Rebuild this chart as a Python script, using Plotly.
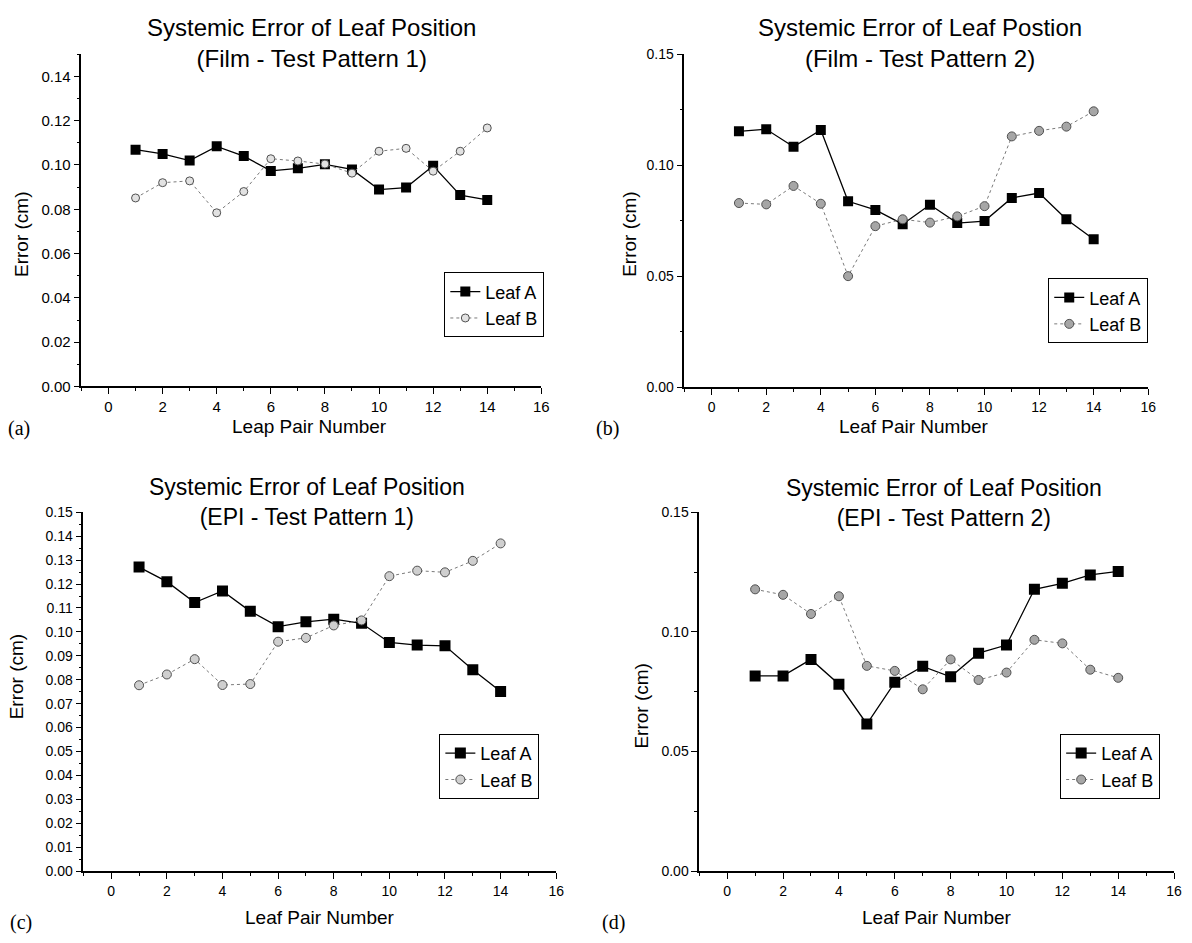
import plotly.graph_objects as go

W, H = 1192, 943
leaf_pairs = list(range(1, 15))

# Panel (a): Film - Test Pattern 1
a_leafA = [0.1069, 0.1050, 0.1020, 0.1084, 0.1040, 0.0973, 0.0985, 0.1003, 0.0980, 0.0889, 0.0898, 0.0996, 0.0864, 0.0842]
a_leafB = [0.0851, 0.0920, 0.0928, 0.0784, 0.0880, 0.1028, 0.1018, 0.1004, 0.0963, 0.1062, 0.1075, 0.0972, 0.1062, 0.1167]
# Panel (b): Film - Test Pattern 2
b_leafA = [0.1153, 0.1162, 0.1083, 0.1159, 0.0838, 0.0799, 0.0735, 0.0822, 0.0740, 0.0749, 0.0853, 0.0875, 0.0757, 0.0667]
b_leafB = [0.0830, 0.0824, 0.0907, 0.0827, 0.0501, 0.0726, 0.0757, 0.0742, 0.0770, 0.0816, 0.1130, 0.1155, 0.1174, 0.1243]
# Panel (c): EPI - Test Pattern 1
c_leafA = [0.1271, 0.1210, 0.1123, 0.1171, 0.1086, 0.1022, 0.1042, 0.1053, 0.1036, 0.0956, 0.0945, 0.0942, 0.0842, 0.0751]
c_leafB = [0.0777, 0.0822, 0.0886, 0.0778, 0.0782, 0.0959, 0.0975, 0.1027, 0.1048, 0.1233, 0.1256, 0.1249, 0.1297, 0.1370]
# Panel (d): EPI - Test Pattern 2
d_leafA = [0.0816, 0.0816, 0.0885, 0.0781, 0.0615, 0.0789, 0.0856, 0.0812, 0.0911, 0.0945, 0.1178, 0.1203, 0.1238, 0.1253]
d_leafB = [0.1178, 0.1155, 0.1075, 0.1149, 0.0858, 0.0837, 0.0760, 0.0885, 0.0799, 0.0830, 0.0967, 0.0952, 0.0842, 0.0808]

title_line1 = [
    "Systemic Error of Leaf Position",
    "Systemic Error of Leaf Postion",
    "Systemic Error of Leaf Position",
    "Systemic Error of Leaf Position",
]
title_line2 = [
    "(Film - Test Pattern 1)",
    "(Film - Test Pattern 2)",
    "(EPI - Test Pattern 1)",
    "(EPI - Test Pattern 2)",
]
xlabels = ["Leap Pair Number", "Leaf Pair Number", "Leaf Pair Number", "Leaf Pair Number"]
ylabel = "Error (cm)"
panel_tags = ["(a)", "(b)", "(c)", "(d)"]
series_names = ["Leaf A", "Leaf B"]

FONT = "Liberation Sans, Arial, sans-serif"
SERIF = "Liberation Serif, Times New Roman, serif"


def fx(px):
    return px / W


def fy(py):
    return 1 - py / H


# geometry in pixels: (x_left, x_right, y_top, y_bottom)
geo = [
    (82, 545, 47, 385),
    (689, 1156, 47, 386),
    (84, 560, 513, 878),
    (704, 1182, 513, 878),
]
ydticks = [(0.02, 0.01), (0.05, 0.025), (0.01, 0.005), (0.05, 0.025)]
tickfont_sizes = [15, 14, 14, 14]
title_cx = [314, 926, 309, 950]
title_cy = [36, 36, 503, 504]
title_size = [24, 24, 23, 23]
xlabel_pos = [(312, 426), (920, 426), (322, 925), (943, 925)]
ylabel_pos = [(21, 230), (633, 230), (17, 680), (646, 710)]
tag_pos = [(19, 428), (612, 428), (21, 930), (618, 930)]
legend_box = [(437, 548, 279, 325), (1048, 1156, 285, 331), (422, 543, 745, 798), (1054, 1168, 744, 799)]
circle_fill = ["#e2e2e2", "#a6a6a6", "#cfcfcf", "#a6a6a6"]
square_size = [10, 10, 11, 11]
circle_size = [8, 9, 9, 9]

data = [(a_leafA, a_leafB), (b_leafA, b_leafB), (c_leafA, c_leafB), (d_leafA, d_leafB)]

fig = go.Figure()
annotations = []
layout_extra = {}

for i in range(4):
    n = "" if i == 0 else str(i + 1)
    lg = "legend" if i == 0 else f"legend{i + 1}"
    A, B = data[i]
    fig.add_trace(go.Scatter(
        x=leaf_pairs, y=A, name=series_names[0], mode="lines+markers",
        xaxis="x" + n, yaxis="y" + n, legend=lg,
        line=dict(color="black", width=1.3),
        marker=dict(symbol="square", size=square_size[i], color="black"),
    ))
    fig.add_trace(go.Scatter(
        x=leaf_pairs, y=B, name=series_names[1], mode="lines+markers",
        xaxis="x" + n, yaxis="y" + n, legend=lg,
        line=dict(color="#7a7a7a", width=1, dash="dot"),
        marker=dict(symbol="circle", size=circle_size[i], color=circle_fill[i],
                    line=dict(color="#505050", width=1)),
    ))
    xl, xr, yt, yb = geo[i]
    d_major, d_minor = ydticks[i]
    tf = tickfont_sizes[i]
    layout_extra["xaxis" + n] = dict(
        domain=[fx(xl), fx(xr)], range=[-1, 16], anchor="y" + n,
        tickmode="linear", tick0=0, dtick=2, ticks="outside", ticklen=6,
        tickwidth=1.2, tickcolor="black",
        minor=dict(tickmode="linear", tick0=1, dtick=1, ticks="outside", ticklen=3, tickcolor="black"),
        showline=True, linecolor="black", linewidth=1.6, showgrid=False, zeroline=False,
        tickfont=dict(family=FONT, size=tf, color="black"),
    )
    layout_extra["yaxis" + n] = dict(
        domain=[fy(yb), fy(yt)], range=[0, 0.15], anchor="x" + n,
        tickmode="linear", tick0=0, dtick=d_major, ticks="outside", ticklen=6,
        tickwidth=1.2, tickcolor="black", tickformat=".2f",
        minor=dict(tickmode="linear", tick0=0, dtick=d_minor, ticks="outside", ticklen=3, tickcolor="black"),
        showline=True, linecolor="black", linewidth=1.6, showgrid=False, zeroline=False,
        tickfont=dict(family=FONT, size=tf, color="black"),
    )
    annotations.append(dict(text=title_line1[i] + "<br>" + title_line2[i],
                            x=fx(title_cx[i]), y=fy(title_cy[i]), xref="paper", yref="paper",
                            showarrow=False, xanchor="center", yanchor="middle", align="center",
                            font=dict(family=FONT, size=title_size[i], color="black")))
    lx, ly = xlabel_pos[i]
    annotations.append(dict(text=xlabels[i], x=fx(lx), y=fy(ly), xref="paper", yref="paper",
                            showarrow=False, xanchor="center", yanchor="middle",
                            font=dict(family=FONT, size=19, color="black")))
    yx, yy = ylabel_pos[i]
    annotations.append(dict(text=ylabel, x=fx(yx), y=fy(yy), xref="paper", yref="paper",
                            showarrow=False, xanchor="center", yanchor="middle", textangle=-90,
                            font=dict(family=FONT, size=19, color="black")))
    gx, gy = tag_pos[i]
    annotations.append(dict(text=panel_tags[i], x=fx(gx), y=fy(gy), xref="paper", yref="paper",
                            showarrow=False, xanchor="center", yanchor="middle",
                            font=dict(family=SERIF, size=20, color="black")))
    bl, br, bt, bb = legend_box[i]
    layout_extra[lg] = dict(
        x=fx(br), y=fy((bt + bb) / 2), xanchor="right", yanchor="middle",
        xref="paper", yref="paper",
        bgcolor="white", bordercolor="black", borderwidth=1,
        font=dict(family=FONT, size=18, color="black"), tracegroupgap=0,
        itemwidth=30,
    )

fig.update_layout(
    width=W, height=H, margin=dict(l=0, r=0, t=0, b=0),
    paper_bgcolor="white", plot_bgcolor="white",
    showlegend=True, annotations=annotations, **layout_extra,
)

fig.write_html("out.html")
